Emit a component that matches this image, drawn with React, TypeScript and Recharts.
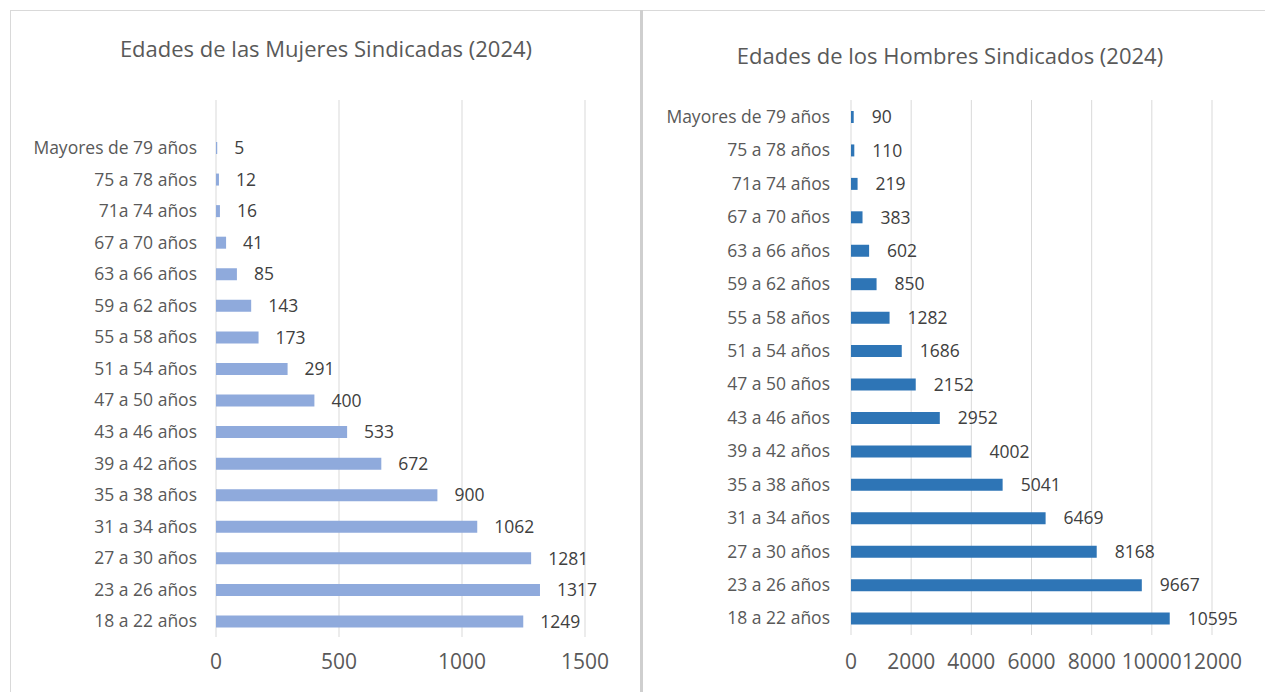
import { Bar, BarChart, CartesianGrid, LabelList, XAxis, YAxis } from "recharts"

const ageGroups = [
  "Mayores de 79 años",
  "75 a 78 años",
  "71a 74 años",
  "67 a 70 años",
  "63 a 66 años",
  "59 a 62 años",
  "55 a 58 años",
  "51 a 54 años",
  "47 a 50 años",
  "43 a 46 años",
  "39 a 42 años",
  "35 a 38 años",
  "31 a 34 años",
  "27 a 30 años",
  "23 a 26 años",
  "18 a 22 años",
]

const women = [5, 12, 16, 41, 85, 143, 173, 291, 400, 533, 672, 900, 1062, 1281, 1317, 1249]
const men = [90, 110, 219, 383, 602, 850, 1282, 1686, 2152, 2952, 4002, 5041, 6469, 8168, 9667, 10595]

const womenTicks = [0, 500, 1000, 1500]
const menTicks = [0, 2000, 4000, 6000, 8000, 10000, 12000]

const womenTitle = "Edades de las Mujeres Sindicadas (2024)"
const menTitle = "Edades de los Hombres Sindicados (2024)"

const womenData = ageGroups.map((group, i) => ({ group, value: women[i] }))
const menData = ageGroups.map((group, i) => ({ group, value: men[i] }))

const font = "'Open Sans', sans-serif"
const textColor = "#595959"

export default function App() {
  return (
    <div
      style={{
        position: "absolute",
        left: 0,
        top: 0,
        width: 1265,
        height: 692,
        background: "#fff",
        fontFamily: font,
        overflow: "hidden",
      }}
    >
      {/* panel frame */}
      <div
        style={{
          position: "absolute",
          left: 10,
          top: 10,
          width: 1255,
          height: 682,
          borderTop: "1px solid #d9d9d9",
          borderLeft: "1px solid #d9d9d9",
        }}
      />
      <div style={{ position: "absolute", left: 640, top: 10, width: 3, height: 682, background: "#cfcfcf" }} />

      <div
        style={{
          position: "absolute",
          left: 10,
          top: 33,
          width: 632,
          textAlign: "center",
          fontSize: 22,
          color: textColor,
        }}
      >
        {womenTitle}
      </div>
      <div
        style={{
          position: "absolute",
          left: 645,
          top: 40,
          width: 610,
          textAlign: "center",
          fontSize: 22,
          color: textColor,
        }}
      >
        {menTitle}
      </div>

      <div style={{ position: "absolute", left: 0, top: 0 }}>
        <BarChart
          width={627}
          height={692}
          data={womenData}
          layout="vertical"
          margin={{ top: 100, right: 42, bottom: 15, left: 16 }}
        >
          <CartesianGrid horizontal={false} stroke="#d9d9d9" />
          <XAxis
            type="number"
            domain={[0, 1500]}
            ticks={womenTicks}
            interval={0}
            height={40}
            tickLine={false}
            axisLine={false}
            tickMargin={11}
            tick={{ fill: textColor, fontSize: 21, fontFamily: font }}
          />
          <YAxis
            type="category"
            dataKey="group"
            width={200}
            padding={{ top: 32, bottom: 0 }}
            tickLine={false}
            axisLine={false}
            tickMargin={13}
            interval={0}
            tick={{ fill: textColor, fontSize: 17.5, fontFamily: font }}
          />
          <Bar dataKey="value" fill="#8faadc" barSize={12} isAnimationActive={false}>
            <LabelList
              dataKey="value"
              position="right"
              offset={17}
              style={{ fill: "#404040", fontSize: 17.5, fontFamily: font }}
            />
          </Bar>
        </BarChart>
      </div>

      <div style={{ position: "absolute", left: 645, top: 0 }}>
        <BarChart
          width={620}
          height={692}
          data={menData}
          layout="vertical"
          margin={{ top: 100, right: 53, bottom: 17, left: 6 }}
        >
          <CartesianGrid horizontal={false} stroke="#d9d9d9" />
          <XAxis
            type="number"
            domain={[0, 12000]}
            ticks={menTicks}
            interval={0}
            height={40}
            tickLine={false}
            axisLine={false}
            tickMargin={13}
            tick={{ fill: textColor, fontSize: 21, fontFamily: font }}
          />
          <YAxis
            type="category"
            dataKey="group"
            width={200}
            tickLine={false}
            axisLine={false}
            tickMargin={15}
            interval={0}
            tick={{ fill: textColor, fontSize: 17.5, fontFamily: font }}
          />
          <Bar dataKey="value" fill="#2e75b6" barSize={12} isAnimationActive={false}>
            <LabelList
              dataKey="value"
              position="right"
              offset={18}
              style={{ fill: "#404040", fontSize: 17.5, fontFamily: font }}
            />
          </Bar>
        </BarChart>
      </div>
    </div>
  )
}
